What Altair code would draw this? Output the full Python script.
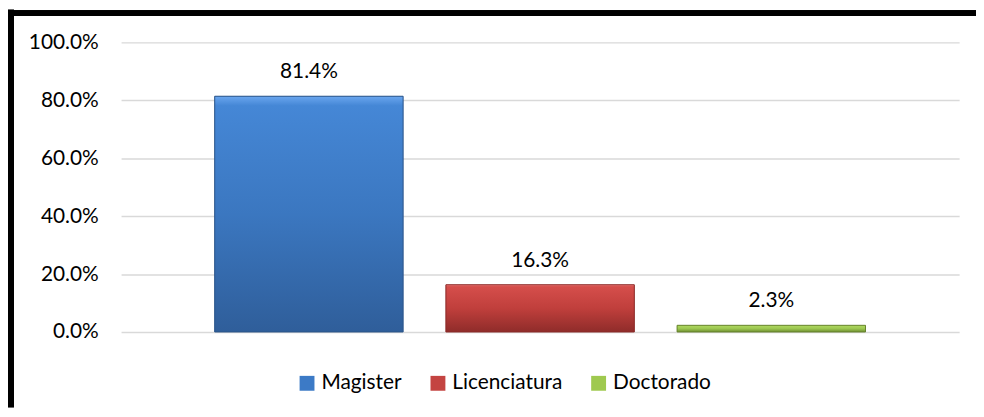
import altair as alt
import pandas as pd

categories = ["Magister", "Licenciatura", "Doctorado"]
values = [81.4, 16.3, 2.3]
y_ticks = [0, 20, 40, 60, 80, 100]

colors = ["#3C7AC6", "#C44441", "#9FC94F"]
grad_stops = {
    "Magister": ["#6AA6EE", "#4587D6", "#3B77C0", "#2F5E9A"],
    "Licenciatura": ["#F58080", "#D54E4B", "#C03F3C", "#8F2C2A"],
    "Doctorado": ["#E0F598", "#AED85F", "#9CC650", "#6E8E32"],
}
stroke_cols = {"Magister": "#2C5488", "Licenciatura": "#8A2A28", "Doctorado": "#66822E"}

df = pd.DataFrame({"category": categories, "value": values})
df["label"] = [f"{v:.1f}%" for v in values]

FONT = "Lato"
FS = 21

xscale = alt.Scale(paddingInner=0.185, paddingOuter=0.405)
xenc = alt.X("category:N", sort=categories, scale=xscale, axis=None)
yenc = alt.Y("value:Q",
             scale=alt.Scale(domain=[0, 100], nice=False, zero=True),
             axis=alt.Axis(values=y_ticks, title=None, domain=False, ticks=False,
                           labelExpr="format(datum.value, '.1f') + '%'",
                           labelFont=FONT, labelFontSize=FS, labelColor="#000000",
                           labelFontWeight="normal",
                           labelPadding=23, grid=True, gridColor="#D9D9D9",
                           gridWidth=1.5))

base = alt.Chart(df)

bars = base.mark_bar().encode(
    x=xenc, y=yenc,
    color=alt.Color("category:N", sort=categories,
                    scale=alt.Scale(domain=categories, range=colors),
                    legend=alt.Legend(orient="none", direction="horizontal",
                                      legendX=177, legendY=333, title=None,
                                      symbolType="square", symbolSize=225,
                                      symbolStrokeWidth=0,
                                      labelFont=FONT, labelFontSize=FS,
                                      labelColor="#000000", labelOffset=4,
                                      columnPadding=26, padding=0)),
)

overlays = []
for c in categories:
    s = grad_stops[c]
    g = alt.Gradient(gradient="linear", x1=0, y1=0, x2=0, y2=1,
                     stops=[alt.GradientStop(color=s[0], offset=0),
                            alt.GradientStop(color=s[1], offset=0.04),
                            alt.GradientStop(color=s[2], offset=0.5),
                            alt.GradientStop(color=s[3], offset=1)])
    overlays.append(
        base.transform_filter(alt.datum.category == c)
        .mark_bar(color=g, stroke=stroke_cols[c], strokeWidth=1)
        .encode(x=xenc, y=yenc)
    )

texts = base.mark_text(baseline="middle", dy=-24, font=FONT, fontSize=FS,
                       color="#000000").encode(
    x=alt.X("category:N", sort=categories, scale=xscale, axis=None),
    y=alt.Y("value:Q"),
    text="label:N",
)

left_border = alt.Chart(df).mark_rule(color="#000000", strokeWidth=6).encode(
    x=alt.value(-111), y=alt.value(-33), y2=alt.value(368))
top_border = alt.Chart(df).mark_rule(color="#000000", strokeWidth=6).encode(
    y=alt.value(-29.5), x=alt.value(-114), x2=alt.value(862))

chart = alt.layer(bars, *overlays, texts, left_border, top_border).properties(
    width=845, height=292,
    padding={"left": 114, "top": 33, "right": 17, "bottom": 76},
    autosize=alt.AutoSizeParams(type="none"),
    background="#FFFFFF",
).configure_view(stroke=None)

chart.save("out.html", embed_options={"renderer": "svg", "actions": False})
